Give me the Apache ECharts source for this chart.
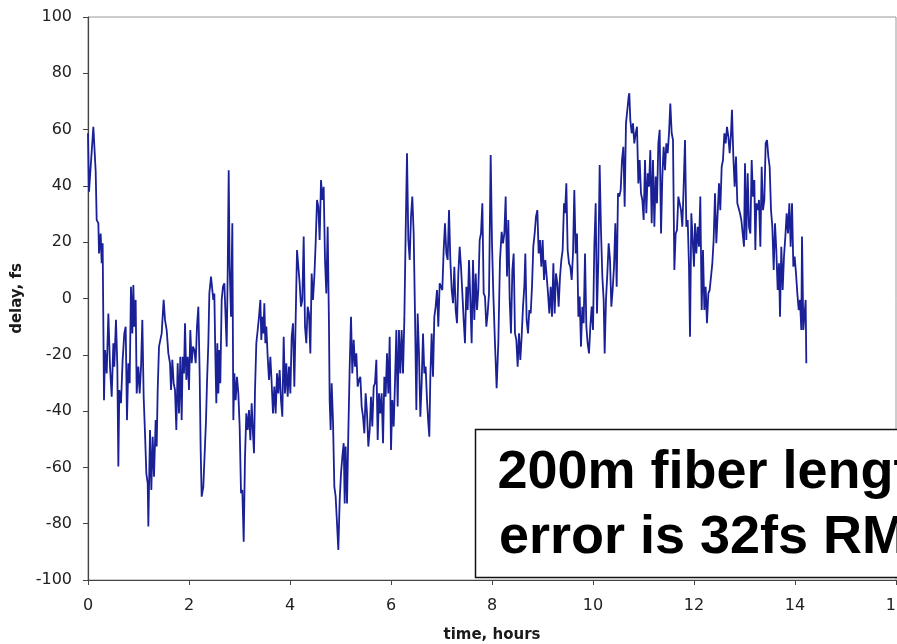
<!DOCTYPE html>
<html>
<head>
<meta charset="utf-8">
<script src="https://cdn.jsdelivr.net/npm/echarts@6/dist/echarts.min.js"></script>
<style>
  html, body { margin: 0; padding: 0; background: #fff; }
  #chart { width: 897px; height: 644px; }
</style>
</head>
<body>
<div id="chart"></div>
<script>
// Fiber link delay drift over a ~14 hour run
const hours = [
  0, 0.02, 0.106, 0.152, 0.172, 0.205, 0.218, 0.251, 0.271, 0.29,
  0.317, 0.337, 0.37, 0.403, 0.436, 0.469, 0.502, 0.521, 0.554, 0.581,
  0.601, 0.62, 0.653, 0.686, 0.719, 0.746, 0.772, 0.799, 0.825, 0.851,
  0.878, 0.898, 0.917, 0.944, 0.964, 0.997, 1.023, 1.05, 1.076, 1.102,
  1.129, 1.155, 1.182, 1.195, 1.228, 1.254, 1.281, 1.307, 1.34, 1.36,
  1.38, 1.406, 1.432, 1.459, 1.498, 1.525, 1.558, 1.591, 1.624, 1.644,
  1.67, 1.696, 1.723, 1.749, 1.776, 1.802, 1.828, 1.855, 1.875, 1.901,
  1.921, 1.947, 1.974, 2.0, 2.026, 2.053, 2.079, 2.106, 2.132, 2.158,
  2.185, 2.211, 2.231, 2.251, 2.284,
  2.337, 2.356, 2.383, 2.403, 2.436, 2.462, 2.482, 2.502, 2.521, 2.541,
  2.561, 2.581, 2.601, 2.62, 2.647, 2.673, 2.7, 2.726, 2.746, 2.766,
  2.786, 2.805, 2.832, 2.858, 2.878, 2.898, 2.924, 2.95, 2.977, 3.003,
  3.03, 3.056, 3.083, 3.109, 3.135, 3.162, 3.188, 3.215, 3.241, 3.267,
  3.287, 3.307, 3.333, 3.36, 3.386, 3.413, 3.432, 3.452, 3.472, 3.492,
  3.512, 3.531, 3.558, 3.584, 3.611, 3.637, 3.663, 3.69, 3.716, 3.743,
  3.769, 3.795, 3.822, 3.848, 3.875, 3.901, 3.927, 3.954, 3.98, 4.007,
  4.033, 4.059, 4.086, 4.112, 4.139, 4.165, 4.191, 4.218, 4.244, 4.271,
  4.297, 4.323, 4.35, 4.376, 4.403, 4.429, 4.455, 4.482, 4.508, 4.535,
  4.561, 4.587, 4.614, 4.64, 4.667,
  4.693, 4.719, 4.746, 4.772, 4.785, 4.805, 4.825, 4.851, 4.878, 4.904,
  4.931, 4.957, 4.984, 5.01, 5.036, 5.063, 5.083, 5.102, 5.129, 5.155,
  5.182, 5.208, 5.234, 5.261, 5.287, 5.314, 5.34, 5.366, 5.393, 5.419,
  5.446, 5.472, 5.498, 5.525, 5.551, 5.578, 5.604, 5.63, 5.657, 5.683,
  5.71, 5.736, 5.762, 5.789, 5.815, 5.842, 5.868, 5.894, 5.921, 5.947,
  5.974, 6.0, 6.026, 6.053, 6.079, 6.106, 6.132, 6.158, 6.185, 6.211,
  6.238, 6.264, 6.29, 6.317, 6.343, 6.37, 6.396, 6.422, 6.449, 6.475,
  6.502, 6.528, 6.554, 6.581, 6.607, 6.634, 6.66, 6.686, 6.713, 6.739,
  6.759, 6.779, 6.805, 6.832, 6.858, 6.884, 6.911, 6.937, 6.964, 6.99,
  7.016, 7.043,
  7.069, 7.096, 7.122, 7.149, 7.175, 7.202, 7.228, 7.254, 7.281, 7.307,
  7.333, 7.36, 7.386, 7.413, 7.439, 7.465, 7.492, 7.518, 7.545, 7.571,
  7.597, 7.624, 7.65, 7.677, 7.703, 7.729, 7.756, 7.782, 7.809, 7.835,
  7.861, 7.888, 7.914, 7.941, 7.974, 8.0, 8.026, 8.059, 8.092, 8.125,
  8.158, 8.191, 8.218, 8.244, 8.271, 8.297, 8.323, 8.35, 8.376, 8.403,
  8.429, 8.455, 8.482, 8.508, 8.535, 8.561, 8.587, 8.614, 8.64, 8.66,
  8.686, 8.713, 8.739, 8.766, 8.792, 8.818, 8.845, 8.871, 8.898, 8.924,
  8.95, 8.977, 9.003, 9.03, 9.056, 9.083, 9.109, 9.135, 9.162, 9.188,
  9.215, 9.241, 9.267, 9.294, 9.32, 9.347, 9.373, 9.399, 9.426,
  9.446, 9.472, 9.498, 9.525, 9.551, 9.578, 9.604, 9.63, 9.657, 9.683,
  9.71, 9.736, 9.762, 9.789, 9.815, 9.842, 9.868, 9.894, 9.921, 9.947,
  9.974, 10.0, 10.026, 10.053, 10.079, 10.106, 10.132, 10.158, 10.185, 10.211,
  10.231, 10.257, 10.284, 10.31, 10.337, 10.363, 10.389, 10.416, 10.442, 10.469,
  10.495, 10.521, 10.548, 10.574, 10.601, 10.627, 10.653, 10.68, 10.706, 10.719,
  10.739, 10.766, 10.792, 10.818, 10.845, 10.871, 10.898, 10.924, 10.95, 10.977,
  11.003, 11.03, 11.056, 11.083, 11.109, 11.135, 11.162, 11.188, 11.215, 11.241,
  11.267, 11.294, 11.32, 11.347, 11.373, 11.399, 11.426, 11.452, 11.479, 11.505,
  11.531, 11.558, 11.584, 11.611, 11.637, 11.663, 11.69, 11.716, 11.743, 11.769,
  11.795,
  11.822, 11.848, 11.875, 11.901, 11.921, 11.947, 11.974, 12.0, 12.02, 12.046,
  12.073, 12.099, 12.125, 12.152, 12.178, 12.205, 12.231, 12.257, 12.284, 12.31,
  12.337, 12.363, 12.389, 12.416, 12.442, 12.469, 12.495, 12.521, 12.548, 12.574,
  12.601, 12.627, 12.653, 12.68, 12.706, 12.733, 12.752, 12.779, 12.805, 12.832,
  12.858, 12.884, 12.911, 12.937, 12.964, 12.99, 13.01, 13.036, 13.063, 13.089,
  13.116, 13.142, 13.168, 13.195, 13.215, 13.234, 13.261, 13.287, 13.314, 13.34,
  13.366, 13.393, 13.419, 13.446, 13.472, 13.498, 13.525, 13.551, 13.578, 13.604,
  13.63, 13.657, 13.683, 13.703, 13.729, 13.756, 13.782, 13.809, 13.835, 13.861,
  13.888, 13.914, 13.941, 13.967, 13.993, 14.02, 14.046, 14.073, 14.099, 14.125,
  14.139, 14.165, 14.191, 14.211, 14.224
];

const delay = [
  58.7, 37.9, 61.0, 45.1, 27.9, 26.7, 16.0, 23.1, 12.5, 19.6,
  -36.1, -18.3, -26.6, -5.3, -24.2, -34.9, -15.9, -24.2, -7.6, -24.2,
  -59.7, -32.5, -37.2, -21.8, -12.4, -10.0, -43.2, -23.0, -30.1, 4.2,
  -12.4, 4.8, -10.0, -0.5, -33.7, -24.2, -33.7, -24.2, -7.6, -34.9,
  -47.9, -62.1, -65.7, -81.0, -46.7, -68.0, -49.1, -63.3, -43.2, -52.6,
  -32.5, -17.1, -17.1, -12.4, -0.5, -7.6, -11.2, -19.5, -23.0, -32.5,
  -21.8, -30.1, -32.5, -46.7, -23.0, -40.8, -20.7, -43.2, -20.7, -26.6,
  -8.8, -28.9, -20.7, -32.5, -11.2, -23.0, -17.1, -18.3, -23.0, -10.0,
  -2.9, -26.6, -53.8, -70.4, -66.8,
  -43.2, -30.1, -15.9, 1.8, 7.8, 3.0, -0.5, 1.8, -19.5, -37.2,
  -15.9, -33.7, -18.3, -30.1, -0.5, 4.2, 5.4, 5.4, -17.1, 8.9,
  45.6, 11.3, -6.5, 26.7, -43.2, -26.6, -36.1, -27.8, -33.7, -45.5,
  -69.2, -68.0, -86.4, -56.2, -40.8, -46.7, -39.6, -50.3, -37.2, -47.9,
  -55.0, -32.5, -15.9, -11.2, -6.5, -0.5, -14.7, -6.5, -12.4, -1.7,
  -15.9, -10.0, -20.7, -28.9, -20.7, -30.1, -40.8, -31.3, -40.8, -26.6,
  -33.7, -25.4, -36.1, -42.0, -13.6, -33.7, -23.0, -34.9, -24.2, -33.7,
  -13.6, -8.8, -31.3, -31.3, 17.2, 11.3, 5.4, -2.9, -0.5, 22.0,
  -10.0, -15.9, -2.9, -5.3, -19.5, 8.9, -0.5, 7.8, 19.6, 35.0,
  32.6, 20.8, 42.1, 35.0, 39.7,
  13.7, 1.8, 25.5, -10.0, -36.1, -46.7, -30.1, -43.2, -66.8, -70.4,
  -79.9, -89.3, -71.6, -62.1, -56.2, -51.4, -72.8, -52.6, -72.8, -47.9,
  -24.2, -6.5, -26.6, -14.7, -24.2, -19.5, -31.3, -28.9, -27.8, -38.4,
  -42.0, -47.9, -33.7, -40.8, -52.6, -46.7, -34.9, -45.5, -31.3, -30.1,
  -21.8, -50.3, -33.7, -40.8, -33.7, -51.4, -27.8, -34.9, -19.5, -33.7,
  -13.6, -53.8, -36.1, -45.5, -30.1, -11.2, -38.4, -11.2, -26.6, -11.2,
  -26.6, -7.6, 23.1, 51.6, 20.8, 13.7, 29.1, 36.2, 23.1, -5.3,
  -39.6, -5.3, -19.5, -42.0, -30.1, -12.4, -26.6, -24.2, -36.1, -44.3,
  -49.1, -27.8, -12.4, -27.8, -6.5, -2.9, 3.0, -10.0, 5.4, 4.2,
  3.0, 17.2,
  26.7, 16.0, 13.7, 31.4, 13.7, 3.0, -1.7, 11.3, -4.1, -8.8,
  8.9, 18.4, 11.3, 1.8, -7.6, -15.9, 4.2, -4.1, 13.7, -0.5,
  -15.9, 13.7, -7.6, 8.9, -4.1, 3.0, 20.8, 23.1, 33.8, 1.8,
  0.7, -10.0, -5.3, 1.8, 51.0, 19.6, 1.8, -15.9, -31.9, -15.9,
  13.7, 23.7, 19.6, 23.1, 36.2, 7.8, 27.9, -0.5, -12.4, 10.1,
  16.0, -12.4, -14.7, -24.2, -12.4, -21.8, -13.6, -2.9, 4.2, 16.0,
  -7.6, -12.4, -4.1, -5.3, 4.2, 18.4, 23.1, 29.1, 31.4, 16.0,
  20.8, 11.3, 20.8, 6.6, 13.7, 7.8, 1.8, -5.3, 4.2, -6.5,
  12.5, -5.3, 8.9, 5.4, -2.9, 7.8, 13.7, 17.2, 33.8,
  30.3, 40.9, 17.2, 12.5, 11.3, 6.6, 16.0, 38.5, 16.0, 23.1,
  -6.5, 0.7, -17.1, -2.9, -8.8, 16.0, -10.0, -15.9, -19.5, -10.0,
  -2.9, -11.2, 18.4, 33.8, -5.3, 13.7, 47.4, 24.3, 7.8, -0.5,
  -19.5, -0.5, 8.9, 19.6, 13.7, -2.9, 3.0, 11.3, 26.7, 4.2,
  37.4, 36.2, 38.5, 49.2, 53.9, 32.6, 62.2, 67.0, 71.7, 72.9,
  63.4, 58.7, 62.2, 55.1, 58.7, 61.0, 40.9, 49.2, 37.4, 35.0,
  27.9, 49.2, 30.3, 44.5, 39.7, 52.7, 26.7, 49.2, 25.5, 43.3,
  33.8, 55.1, 59.9, 23.1, 43.3, 53.9, 45.6, 55.1, 51.6, 58.7,
  69.3, 58.7, 56.3, 10.1, 23.1, 24.3, 36.2, 33.8, 31.4, 25.5,
  39.7,
  56.3, 25.5, 27.9, 11.3, -13.6, 30.3, 20.8, 11.3, 26.7, 16.0,
  25.5, 18.4, 36.2, -4.1, 17.2, -4.1, 4.2, -8.8, 1.8, 3.0,
  7.8, 12.5, 20.8, 37.4, 19.6, 30.3, 40.9, 31.4, 46.8, 49.2,
  58.7, 55.1, 61.0, 57.5, 51.6, 58.7, 67.0, 50.4, 39.7, 50.4,
  33.8, 33.8, 30.3, 27.9, 23.1, 18.4, 48.0, 20.8, 44.5, 25.5,
  23.1, 49.2, 36.2, 42.1, 17.2, 33.8, 31.4, 35.0, 18.4, 46.8,
  31.4, 35.0, 55.1, 56.3, 50.4, 46.8, 31.4, 25.5, 10.1, 26.7,
  17.2, 3.0, 12.5, -6.5, 18.4, 3.0, 14.9, 22.0, 30.3, 23.1,
  33.8, 18.4, 33.8, 11.3, 14.9, 8.9, 1.8, -4.1, -0.5, -11.2,
  22.0, -11.2, -5.3, -0.5, -23.0
];

// Axis tick settings
const xTicks = { min: 0, max: 16, interval: 2 };
const yTicks = { min: -100, max: 100, interval: 20 };

const labelFont = 'DejaVu Sans, Verdana, sans-serif';

const chart = echarts.init(document.getElementById('chart'), null, { renderer: 'canvas' });

chart.setOption({
  animation: false,
  backgroundColor: '#ffffff',
  grid: {
    left: 88, right: 1, top: 17, bottom: 64,
    outerBoundsMode: 'none',
    containLabel: false,
    show: true, borderColor: '#9a9a9a', borderWidth: 1, backgroundColor: 'transparent'
  },
  xAxis: {
    type: 'value',
    min: xTicks.min, max: xTicks.max, interval: xTicks.interval,
    name: 'time, hours',
    nameLocation: 'middle',
    nameGap: 48,
    nameTextStyle: { fontFamily: labelFont, fontWeight: 'bold', fontSize: 15, color: '#1a1a1a' },
    axisLine: { show: true, onZero: false, lineStyle: { color: '#444', width: 1.2 } },
    axisTick: { show: true, inside: false, length: 5, lineStyle: { color: '#444' } },
    axisLabel: { margin: 18, fontFamily: labelFont, fontSize: 16, color: '#222',
      showMaxLabel: true, showMinLabel: true, hideOverlap: false },
    splitLine: { show: false }
  },
  yAxis: {
    type: 'value',
    min: yTicks.min, max: yTicks.max, interval: yTicks.interval,
    name: 'delay, fs',
    nameLocation: 'middle',
    nameGap: 57,
    nameRotate: 90,
    nameTextStyle: { fontFamily: labelFont, fontWeight: 'bold', fontSize: 15, color: '#1a1a1a' },
    axisLine: { show: true, onZero: false, lineStyle: { color: '#444', width: 1.2 } },
    axisTick: { show: true, inside: false, length: 5, lineStyle: { color: '#444' } },
    axisLabel: { margin: 16, fontFamily: labelFont, fontSize: 16, color: '#222' },
    splitLine: { show: false }
  },
  series: [{
    type: 'line',
    data: hours.map((h, i) => [h, delay[i]]),
    showSymbol: false,
    symbol: 'none',
    lineStyle: { color: '#1a2096', width: 1.8 },
    z: 2
  }],
  graphic: [
    {
      type: 'rect',
      z: 10,
      shape: { x: 475.5, y: 429.5, width: 492, height: 148 },
      style: { fill: '#ffffff', stroke: '#111', lineWidth: 1.5 }
    },
    {
      type: 'text',
      z: 11,
      x: 721, y: 473,
      style: {
        text: '200m fiber length',
        font: 'bold 54px "Liberation Sans", Arial, sans-serif',
        fill: '#000', align: 'center', verticalAlign: 'middle'
      }
    },
    {
      type: 'text',
      z: 11,
      x: 721, y: 538,
      style: {
        text: 'error is 32fs RMS',
        font: 'bold 54px "Liberation Sans", Arial, sans-serif',
        fill: '#000', align: 'center', verticalAlign: 'middle'
      }
    }
  ]
});
</script>
</body>
</html>
